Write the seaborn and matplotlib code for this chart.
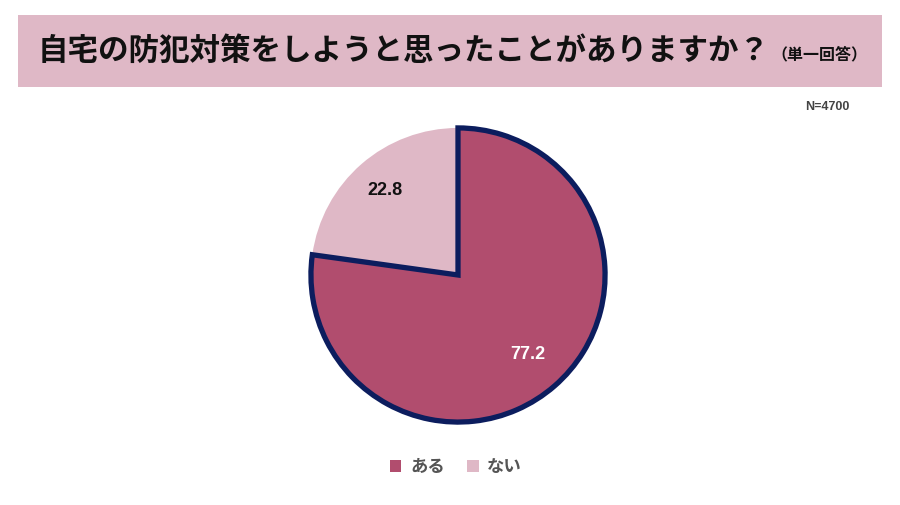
import matplotlib
matplotlib.use("Agg")
import matplotlib.pyplot as plt
import seaborn as sns
import numpy as np
from matplotlib.patches import Rectangle, Patch

# data
labels = ["ある", "ない"]
values = [77.2, 22.8]
colors = ["#b14d6e", "#dfb8c6"]
title = "自宅の防犯対策をしようと思ったことがありますか？"
subtitle = "（単一回答）"
n_text = "N=4700"

sns.set_theme(style="white")
plt.rcParams["font.family"] = ["Noto Sans CJK JP", "DejaVu Sans"]

fig = plt.figure(figsize=(9, 5.05), dpi=100)
fig.patch.set_facecolor("white")

# title banner
fig.patches.append(Rectangle((18 / 900, 1 - 87 / 505), 864 / 900, 72 / 505,
                             transform=fig.transFigure, facecolor="#dfb8c6",
                             edgecolor="none", zorder=0))
t = fig.text(38 / 900, 1 - 51 / 505, title, fontsize=22, fontweight="bold",
             color="#111111", va="center", ha="left")
fig.canvas.draw()
bb = t.get_window_extent().transformed(fig.transFigure.inverted())
fig.text(bb.x1 + 0.002, 1 - 54 / 505, subtitle, fontsize=11.5, fontweight="bold",
         color="#111111", va="center", ha="left")

fig.text(827 / 900, 1 - 107 / 505, n_text, fontsize=9, fontweight="bold",
         color="#444444", ha="center", va="center", family="Liberation Sans")

ax = fig.add_axes([308 / 900, 1 - 425 / 505, 300 / 900, 300 / 505])
wedges, texts = ax.pie(values, colors=colors, startangle=90, counterclock=False,
                       radius=1, labels=None)
wedges[0].set_edgecolor("#0c1d5e")
wedges[0].set_linewidth(3.8)
wedges[0].set_zorder(3)
wedges[1].set_edgecolor("none")

# value labels
txt_colors = ["white", "#111111"]
dists = [0.72, 0.76]
for w, v, c, d in zip(wedges, values, txt_colors, dists):
    mid = np.deg2rad((w.theta1 + w.theta2) / 2)
    ax.text(d * np.cos(mid), d * np.sin(mid), f"{v:.1f}", ha="center",
            va="center", fontsize=13, fontweight="bold", color=c, zorder=5,
            family="Liberation Sans")
ax.set_xlim(-1.02, 1.02)
ax.set_ylim(-1.02, 1.02)
ax.set_aspect("equal")
ax.axis("off")

handles = [Patch(facecolor=c, edgecolor="none", label=l) for c, l in zip(colors, labels)]
leg = fig.legend(handles=handles, loc="center", bbox_to_anchor=(456 / 900, 1 - 467 / 505),
                 ncol=2, frameon=False, fontsize=12.5, handlelength=0.65, handleheight=0.65,
                 handletextpad=0.5, columnspacing=1.3)
for tx in leg.get_texts():
    tx.set_color("#555555")
    tx.set_fontweight("bold")

fig.savefig("out.png", dpi=100, facecolor="white")
